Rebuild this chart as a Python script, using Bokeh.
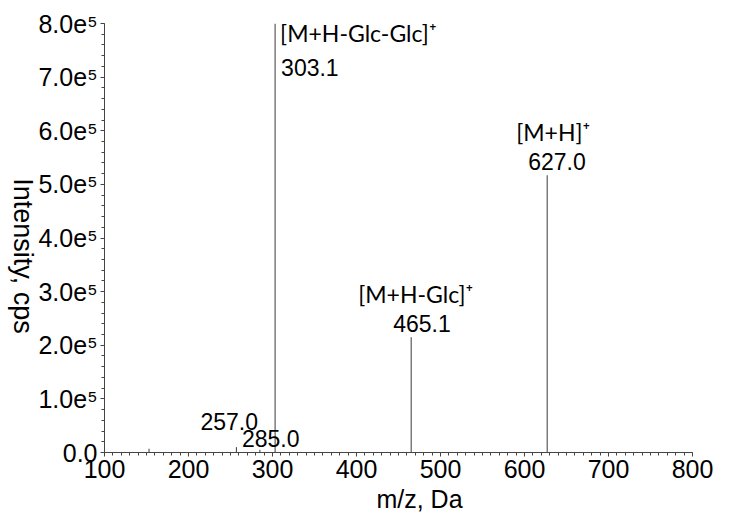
import math
from bokeh.plotting import figure
from bokeh.models import Range1d, Label, FixedTicker
from bokeh.layouts import row, column
from bokeh.core.properties import value
from bokeh.embed import file_html
from bokeh.resources import INLINE

# ---- data ----
mz = [153.0, 257.0, 285.0, 303.1, 465.1, 627.0]
intensity = [7000, 10000, 5000, 800000, 215000, 517000]
peak_numbers = ["", "257.0", "285.0", "303.1", "465.1", "627.0"]
ion_names = ["", "", "", "[M+H-Glc-Glc]⁺", "[M+H-Glc]⁺", "[M+H]⁺"]

x_ticks = [100, 200, 300, 400, 500, 600, 700, 800]
y_ticks = [0, 100000, 200000, 300000, 400000, 500000, 600000, 700000, 800000]
y_tick_labels = ["0.0", "1.0e⁵", "2.0e⁵", "3.0e⁵", "4.0e⁵", "5.0e⁵", "6.0e⁵", "7.0e⁵", "8.0e⁵"]
x_title = "m/z, Da"
y_title = "Intensity, cps"

# ---- label placement (screen-pixel offsets from each peak top) ----
number_offsets = [(0, 0), (-36, 26), (-18, 11), (6, -44), (-18, 14), (-19, 14)]
name_offsets = [(0, 0), (0, 0), (0, 0), (5, -9), (-53, 43), (-31, 43)]

TICK_FONT = "Liberation Sans"
W, H = 729, 515
YLAB_W = 35
MAIN_H = 487

# ---------------- main spectrum ----------------
p = figure(width=W - YLAB_W, height=MAIN_H, output_backend="svg", toolbar_location=None,
           x_range=Range1d(100, 800), y_range=Range1d(0, 800000),
           min_border_left=104 - YLAB_W, min_border_right=37, min_border_top=23,
           min_border_bottom=MAIN_H - 452)
p.outline_line_color = None
p.xgrid.visible = False
p.ygrid.visible = False
p.background_fill_color = "white"
p.border_fill_color = "white"

p.segment(x0=mz, y0=[0] * len(mz), x1=mz, y1=intensity,
          line_color="#3a3a3a", line_width=1)

for ax in (p.xaxis[0], p.yaxis[0]):
    ax.axis_line_color = "#444444"
    ax.major_tick_line_color = "#444444"
    ax.minor_tick_line_color = "#444444"
    ax.major_tick_in = 0
    ax.minor_tick_in = 0
    ax.major_tick_out = 4
    ax.minor_tick_out = 3
    ax.major_label_text_font = TICK_FONT
    ax.major_label_text_font_size = "25px"
    ax.major_label_text_color = "black"

p.xaxis[0].ticker = FixedTicker(ticks=x_ticks,
                                minor_ticks=list(range(x_ticks[0], x_ticks[-1] + 1, 10)))
p.xaxis[0].major_label_standoff = 3
p.yaxis[0].ticker = FixedTicker(ticks=y_ticks,
                                minor_ticks=list(range(0, y_ticks[-1] + 1, 20000)))
p.yaxis[0].major_label_overrides = {t: l for t, l in zip(y_ticks, y_tick_labels)}
p.yaxis[0].major_label_standoff = 3

for x, y, num, name, no, na in zip(mz, intensity, peak_numbers, ion_names,
                                   number_offsets, name_offsets):
    if num:
        p.add_layout(Label(x=x, y=y, text=num, x_offset=no[0], y_offset=no[1],
                           text_font=TICK_FONT, text_font_size="23px",
                           text_color="black", text_baseline="alphabetic",
                           text_align="left"))
    if name:
        p.add_layout(Label(x=x, y=y, text=name, x_offset=na[0], y_offset=na[1],
                           text_font="Lato", text_font_size="23px",
                           text_color="black", text_baseline="alphabetic",
                           text_align="left"))

# ---------------- y-axis title strip (reads top to bottom) ----------------
ylab = figure(width=YLAB_W, height=MAIN_H, output_backend="svg", toolbar_location=None,
              x_range=Range1d(0, YLAB_W), y_range=Range1d(0, MAIN_H),
              x_axis_type=None, y_axis_type=None, min_border=0)
ylab.outline_line_color = None
ylab.background_fill_color = "white"
ylab.border_fill_color = "white"
ylab.text(x=[22], y=[MAIN_H - 264], text=[y_title], angle=-math.pi / 2,
          text_font=value(TICK_FONT), text_font_size="27px", text_color="black",
          text_align="center", text_baseline="alphabetic")

# ---------------- x-axis title strip ----------------
xlab = figure(width=W, height=H - MAIN_H, output_backend="svg", toolbar_location=None,
              x_range=Range1d(0, W), y_range=Range1d(0, H - MAIN_H),
              x_axis_type=None, y_axis_type=None, min_border=0)
xlab.outline_line_color = None
xlab.background_fill_color = "white"
xlab.border_fill_color = "white"
xlab.text(x=[419], y=[17], text=[x_title],
          text_font=value(TICK_FONT), text_font_size="25px", text_color="black",
          text_align="center", text_baseline="alphabetic")

layout = column(row(ylab, p), xlab)
open("out.html", "w").write(file_html(layout, INLINE))
